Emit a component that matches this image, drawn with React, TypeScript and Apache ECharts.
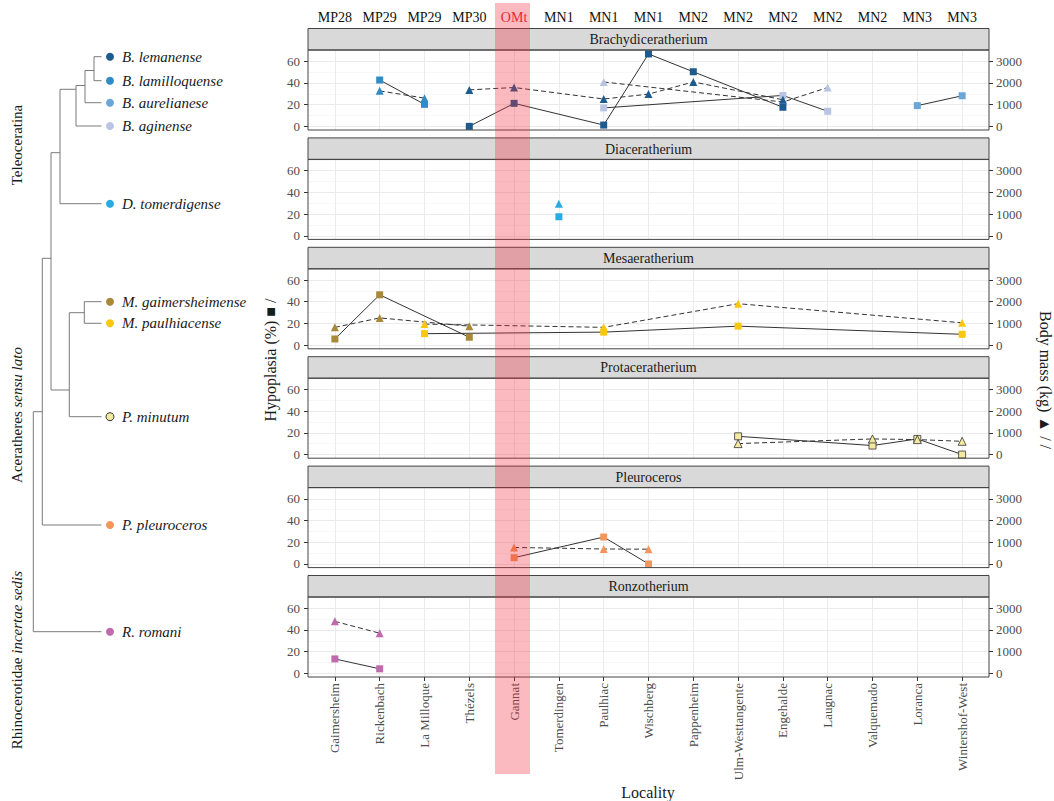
import React, { useEffect, useRef } from "react";
import * as echarts from "echarts";

// ---------- data ----------
const localities = [
  "Gaimersheim", "Rickenbach", "La Milloque", "Thézels", "Gannat", "Tomerdingen", "Paulhiac",
  "Wischberg", "Pappenheim", "Ulm-Westtangente", "Engehalde", "Laugnac", "Valquemado", "Loranca", "Wintershof-West",
];
const ages = ["MP28", "MP29", "MP29", "MP30", "OMt", "MN1", "MN1", "MN1", "MN2", "MN2", "MN2", "MN2", "MN2", "MN3", "MN3"];
const genera = ["Brachydiceratherium", "Diaceratherium", "Mesaeratherium", "Protaceratherium", "Pleuroceros", "Ronzotherium"];
const hypTicks = [0, 20, 40, 60];
const hypMinorTicks = [10, 30, 50, 70];
const massTicks = [0, 1000, 2000, 3000];

type N = number | null;
const _ = null;
// Hypoplasia (%) and body mass (kg) per locality (same order as localities)
const lemanenseHyp: N[] = [_, _, _, 0, 21.2, _, 1.2, 66.7, 50.3, _, 17.6, _, _, _, _];
const lemanenseMass: N[] = [_, _, _, 1680, 1790, _, 1260, 1485, 2045, _, 1225, _, _, _, _];
const lamilloquenseHyp: N[] = [_, 42.7, 20.3, _, _, _, _, _, _, _, _, _, _, _, _];
const lamilloquenseMass: N[] = [_, 1635, 1300, _, _, _, _, _, _, _, _, _, _, _, _];
const aurelianeseHyp: N[] = [_, _, _, _, _, _, _, _, _, _, _, _, _, 19.1, 28.2];
const aurelianeseMass: N[] = [_, _, _, _, _, _, _, _, _, _, _, _, _, _, _];
const aginenseHyp: N[] = [_, _, _, _, _, _, 17, _, _, _, 28.5, 13.9, _, _, _];
const aginenseMass: N[] = [_, _, _, _, _, _, 2045, _, _, _, 1120, 1790, _, _, _];
const tomerdigenseHyp: N[] = [_, _, _, _, _, 17.5, _, _, _, _, _, _, _, _, _];
const tomerdigenseMass: N[] = [_, _, _, _, _, 1470, _, _, _, _, _, _, _, _, _];
const gaimersheimenseHyp: N[] = [5.7, 46.4, _, 7.3, _, _, _, _, _, _, _, _, _, _, _];
const gaimersheimenseMass: N[] = [820, 1255, _, 875, _, _, _, _, _, _, _, _, _, _, _];
const paulhiacenseHyp: N[] = [_, _, 10.6, _, _, _, 12, _, _, 17.5, _, _, _, _, 10];
const paulhiacenseMass: N[] = [_, _, 970, _, _, _, 820, _, _, 1910, _, _, _, _, 1030];
const minutumHyp: N[] = [_, _, _, _, _, _, _, _, _, 16.8, _, _, 8.3, 14.4, 0];
const minutumMass: N[] = [_, _, _, _, _, _, _, _, _, 505, _, _, 720, 690, 610];
const pleurocerosHyp: N[] = [_, _, _, _, 5.8, _, 24.8, 0, _, _, _, _, _, _, _];
const pleurocerosMass: N[] = [_, _, _, _, 760, _, 690, 680, _, _, _, _, _, _, _];
const romaniHyp: N[] = [13.3, 4.2, _, _, _, _, _, _, _, _, _, _, _, _, _];
const romaniMass: N[] = [2395, 1850, _, _, _, _, _, _, _, _, _, _, _, _, _];

const species = [
  { name: "B. aginense", panel: 0, color: "#b8c4e2", border: "", hyp: aginenseHyp, mass: aginenseMass },
  { name: "B. aurelianese", panel: 0, color: "#6aa6d8", border: "", hyp: aurelianeseHyp, mass: aurelianeseMass },
  { name: "B. lamilloquense", panel: 0, color: "#2f8cc6", border: "", hyp: lamilloquenseHyp, mass: lamilloquenseMass },
  { name: "B. lemanense", panel: 0, color: "#1d5b8f", border: "", hyp: lemanenseHyp, mass: lemanenseMass },
  { name: "D. tomerdigense", panel: 1, color: "#29abe2", border: "", hyp: tomerdigenseHyp, mass: tomerdigenseMass },
  { name: "M. gaimersheimense", panel: 2, color: "#a8893a", border: "", hyp: gaimersheimenseHyp, mass: gaimersheimenseMass },
  { name: "M. paulhiacense", panel: 2, color: "#f9c80e", border: "", hyp: paulhiacenseHyp, mass: paulhiacenseMass },
  { name: "P. minutum", panel: 3, color: "#f3e9a0", border: "#333333", hyp: minutumHyp, mass: minutumMass },
  { name: "P. pleuroceros", panel: 4, color: "#f4955c", border: "", hyp: pleurocerosHyp, mass: pleurocerosMass },
  { name: "R. romani", panel: 5, color: "#c06aae", border: "", hyp: romaniHyp, mass: romaniMass },
];

// tree leaves
const treeLeaves = [
  { name: "B. lemanense", y: 56.7, color: "#1d5b8f", border: "" },
  { name: "B. lamilloquense", y: 80.7, color: "#2f8cc6", border: "" },
  { name: "B. aurelianese", y: 102.7, color: "#6aa6d8", border: "" },
  { name: "B. aginense", y: 126, color: "#b8c4e2", border: "" },
  { name: "D. tomerdigense", y: 203.7, color: "#29abe2", border: "" },
  { name: "M. gaimersheimense", y: 301.7, color: "#a8893a", border: "" },
  { name: "M. paulhiacense", y: 323.3, color: "#f9c80e", border: "" },
  { name: "P. minutum", y: 416.7, color: "#f3e9a0", border: "#333333" },
  { name: "P. pleuroceros", y: 525, color: "#f4955c", border: "" },
  { name: "R. romani", y: 631.7, color: "#c06aae", border: "" },
];
// tree branches: [x1, y1, x2, y2]
const treeSegments = [
  [94, 56.7, 101.5, 56.7], [94, 80.7, 101.5, 80.7], [94, 56.7, 94, 80.7],
  [85, 70.5, 94, 70.5], [85, 70.5, 85, 102.7], [85, 102.7, 101.5, 102.7],
  [76, 85.5, 85, 85.5], [76, 85.5, 76, 126], [76, 126, 101.5, 126],
  [60, 89.3, 76, 89.3], [60, 89.3, 60, 203.7], [60, 203.7, 101.5, 203.7],
  [51, 152.7, 60, 152.7], [51, 152.7, 51, 390],
  [84.3, 301.7, 101.5, 301.7], [84.3, 323.3, 101.5, 323.3], [84.3, 301.7, 84.3, 323.3],
  [69.3, 312.7, 84.3, 312.7], [69.3, 312.7, 69.3, 416.7], [69.3, 416.7, 101.5, 416.7],
  [51, 390, 69.3, 390],
  [42.3, 258.3, 51, 258.3], [42.3, 258.3, 42.3, 525], [42.3, 525, 101.5, 525],
  [33.3, 411.7, 42.3, 411.7], [33.3, 411.7, 33.3, 631.7], [33.3, 631.7, 101.5, 631.7],
];

// ---------- layout ----------
const SERIF = "'Liberation Serif', 'DejaVu Serif', serif";
const PANEL_LEFT = 308;
const PANEL_W = 681;
const STRIP_TOP0 = 28.5;
const PERIOD = 109.4;
const STRIP_H = 21.5;
const PLOT_H = 80;
const HYP_MIN = -3.35;
const HYP_MAX = 70.35;
const MASS_FACTOR = 50;

function pairs(arr: N[]) {
  const out: number[][] = [];
  arr.forEach((v, i) => {
    if (v !== null) out.push([i, v]);
  });
  return out;
}

export default function App() {
  const ref = useRef<HTMLDivElement>(null);
  useEffect(() => {
    const chart = echarts.init(ref.current!, null, { renderer: "svg" });
    const idx = localities.map((_v, i) => i);
    const grids: any[] = [];
    const xAxes: any[] = [];
    const yAxes: any[] = [];
    const series: any[] = [];
    const graphics: any[] = [];
    const plain = (v: any) => String(Math.round(Number(v)));

    for (let p = 0; p < genera.length; p++) {
      const stripTop = STRIP_TOP0 + p * PERIOD;
      const plotTop = stripTop + STRIP_H;
      const last = p === genera.length - 1;
      grids.push({
        left: PANEL_LEFT, top: plotTop, width: PANEL_W, height: PLOT_H,
        show: true, backgroundColor: "#ffffff", borderWidth: 0,
        containLabel: false, outerBoundsMode: "none",
      });
      xAxes.push({
        type: "value", gridIndex: p, position: "bottom", min: -0.6, max: 14.6,
        axisLine: { show: false, onZero: false },
        axisTick: { show: last, customValues: idx, length: 4, lineStyle: { color: "#333333" } },
        axisLabel: {
          show: last, customValues: idx, rotate: 90, margin: 6,
          formatter: (v: any) => localities[Math.round(Number(v))] ?? "",
          color: "#4d4d4d", fontSize: 13, fontFamily: SERIF,
        },
        splitLine: { show: true, lineStyle: { color: "#ebebeb", width: 1 } },
      });
      // left: hypoplasia
      yAxes.push({
        type: "value", gridIndex: p, position: "left", min: HYP_MIN, max: HYP_MAX,
        axisLine: { show: false, onZero: false },
        axisTick: { show: true, customValues: hypTicks, length: 4, lineStyle: { color: "#333333" } },
        axisLabel: { customValues: hypTicks, formatter: plain, color: "#4d4d4d", fontSize: 13, fontFamily: SERIF, margin: 8 },
        splitLine: { show: true, lineStyle: { color: "#ebebeb", width: 1 } },
      });
      // right: body mass
      yAxes.push({
        type: "value", gridIndex: p, position: "right",
        min: HYP_MIN * MASS_FACTOR, max: HYP_MAX * MASS_FACTOR,
        axisLine: { show: false, onZero: false },
        axisTick: { show: true, customValues: massTicks, length: 4, lineStyle: { color: "#333333" } },
        axisLabel: { customValues: massTicks, formatter: plain, color: "#4d4d4d", fontSize: 13, fontFamily: SERIF, margin: 7 },
        splitLine: { show: false },
      });
      // minor grid lines
      yAxes.push({
        type: "value", gridIndex: p, position: "left", min: HYP_MIN, max: HYP_MAX,
        axisLine: { show: false, onZero: false },
        axisTick: { show: false, customValues: hypMinorTicks },
        axisLabel: { show: false },
        splitLine: { show: true, lineStyle: { color: "#f3f3f3", width: 0.7 } },
      });

      graphics.push({
        type: "rect", z: 5, silent: true,
        shape: { x: PANEL_LEFT, y: stripTop, width: PANEL_W, height: STRIP_H },
        style: { fill: "#d9d9d9", stroke: "#444444", lineWidth: 1 },
      });
      graphics.push({
        type: "text", z: 6, silent: true,
        x: PANEL_LEFT + PANEL_W / 2, y: stripTop + STRIP_H / 2 + 0.5,
        style: {
          text: genera[p], fill: "#1a1a1a", font: `14px ${SERIF}`,
          textAlign: "center", textVerticalAlign: "middle",
        },
      });
      graphics.push({
        type: "rect", z: 10, silent: true,
        shape: { x: PANEL_LEFT, y: plotTop, width: PANEL_W, height: PLOT_H },
        style: { fill: "none", stroke: "#444444", lineWidth: 1 },
      });
    }

    // ages on top
    xAxes.push({
      type: "value", gridIndex: 0, position: "top", min: -0.6, max: 14.6,
      axisLine: { show: false, onZero: false },
      axisTick: { show: false, customValues: idx },
      axisLabel: {
        customValues: idx, margin: 26, fontSize: 14, fontFamily: SERIF,
        formatter: (v: any) => ages[Math.round(Number(v))] ?? "",
        color: (v: any) => (ages[Math.round(Number(v))] === "OMt" ? "#e8283a" : "#111111"),
      },
      splitLine: { show: false },
    });

    species.forEach((s) => {
      const p = s.panel;
      const itemStyle = {
        color: s.color,
        borderColor: s.border || s.color,
        borderWidth: s.border ? 0.8 : 0,
      };
      series.push({
        name: s.name + " hypoplasia", type: "line", xAxisIndex: p, yAxisIndex: p * 3,
        data: pairs(s.hyp), symbol: "rect", symbolSize: 7, showSymbol: true,
        lineStyle: { color: "#333333", width: 1, type: "solid" },
        itemStyle, emphasis: { disabled: true }, silent: true, z: 3,
      });
      series.push({
        name: s.name + " body mass", type: "line", xAxisIndex: p, yAxisIndex: p * 3 + 1,
        data: pairs(s.mass), symbol: "triangle", symbolSize: 8, showSymbol: true,
        lineStyle: { color: "#333333", width: 1, type: [5, 3] },
        itemStyle, emphasis: { disabled: true }, silent: true, z: 3,
      });
    });

    // tree
    treeSegments.forEach((seg) => {
      graphics.push({
        type: "line", silent: true, z: 5,
        shape: { x1: seg[0], y1: seg[1], x2: seg[2], y2: seg[3] },
        style: { stroke: "#7a7a7a", lineWidth: 1 },
      });
    });
    treeLeaves.forEach((l) => {
      graphics.push({
        type: "circle", silent: true, z: 6,
        shape: { cx: 110, cy: l.y, r: 4 },
        style: { fill: l.color, stroke: l.border || l.color, lineWidth: l.border ? 1 : 0 },
      });
      graphics.push({
        type: "text", silent: true, z: 6, x: 122, y: l.y,
        style: {
          text: l.name, fill: "#1a1a1a", font: `italic 15px ${SERIF}`,
          textAlign: "left", textVerticalAlign: "middle",
        },
      });
    });
    const groupLabel = (text: string, y: number) => ({
      type: "text", silent: true, z: 6, x: 17, y, rotation: Math.PI / 2,
      style: {
        text, fill: "#1a1a1a", font: `15px ${SERIF}`,
        textAlign: "center", textVerticalAlign: "middle",
        rich: {
          n: { fontFamily: SERIF, fontSize: 15, fill: "#1a1a1a" },
          i: { fontFamily: SERIF, fontSize: 15, fontStyle: "italic", fill: "#1a1a1a" },
        },
      },
    });
    graphics.push(groupLabel("{n|Teleoceratina}", 145));
    graphics.push(groupLabel("{n|Aceratheres }{i|sensu lato}", 415));
    graphics.push(groupLabel("{n|Rhinocerotidae }{i|incertae sedis}", 660));

    // axis titles
    graphics.push({
      type: "text", silent: true, z: 6, x: 270, y: 360, rotation: Math.PI / 2,
      style: {
        text: "Hypoplasia (%) ■ /", fill: "#1a1a1a", font: `16px ${SERIF}`,
        textAlign: "center", textVerticalAlign: "middle",
      },
    });
    graphics.push({
      type: "text", silent: true, z: 6, x: 1045, y: 380, rotation: -Math.PI / 2,
      style: {
        text: "Body mass (kg) ▲ / /", fill: "#1a1a1a", font: `16px ${SERIF}`,
        textAlign: "center", textVerticalAlign: "middle",
      },
    });
    graphics.push({
      type: "text", silent: true, z: 6, x: 648, y: 792,
      style: {
        text: "Locality", fill: "#1a1a1a", font: `16px ${SERIF}`,
        textAlign: "center", textVerticalAlign: "middle",
      },
    });

    // OMt band
    graphics.push({
      type: "rect", silent: true, z: 100,
      shape: { x: 495, y: 3, width: 35, height: 771 },
      style: { fill: "rgba(240, 40, 55, 0.32)" },
    });

    chart.setOption({
      animation: false,
      backgroundColor: "#ffffff",
      textStyle: { fontFamily: SERIF },
      grid: grids,
      xAxis: xAxes,
      yAxis: yAxes,
      series,
      graphic: { elements: graphics },
    });
    return () => chart.dispose();
  }, []);
  return <div ref={ref} style={{ position: "fixed", left: 0, top: 0, width: 1054, height: 801 }} />;
}
